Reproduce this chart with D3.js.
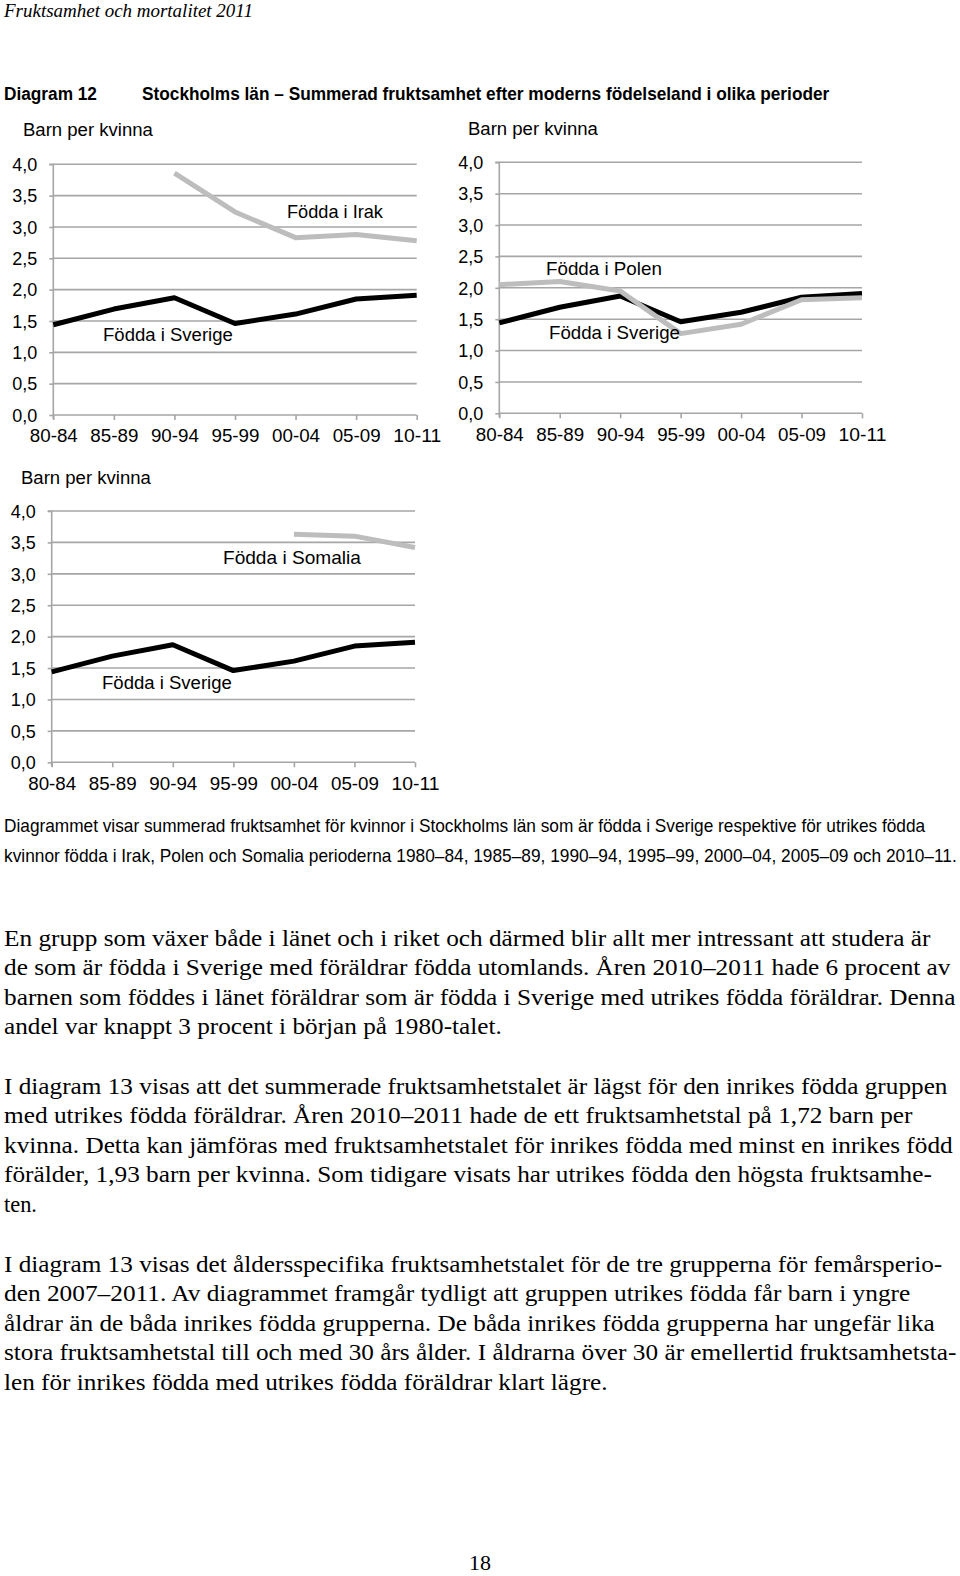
<!DOCTYPE html>
<html>
<head>
<meta charset="utf-8">
<script src="https://cdn.jsdelivr.net/npm/d3@7"></script>
<style>
  body { margin: 0; background: #fff; }
  svg { display: block; }
</style>
</head>
<body>
<svg id="page" width="960" height="1576"></svg>
<script>
// periods on the x axis, fertility (children per woman) on the y axis
const periods = ["80-84", "85-89", "90-94", "95-99", "00-04", "05-09", "10-11"];
const yTicks = [0, 0.5, 1, 1.5, 2, 2.5, 3, 3.5, 4];

const sverige = [1.44, 1.69, 1.87, 1.46, 1.61, 1.85, 1.91];
const irak    = [null, null, 3.86, 3.24, 2.83, 2.88, 2.78];
const polen   = [2.05, 2.10, 1.95, 1.27, 1.42, 1.81, 1.84];
const somalia = [null, null, null, null, 3.63, 3.60, 3.42];

const caption = [
  "Diagrammet visar summerad fruktsamhet för kvinnor i Stockholms län som är födda i Sverige respektive för utrikes födda",
  "kvinnor födda i Irak, Polen och Somalia perioderna 1980–84, 1985–89, 1990–94, 1995–99, 2000–04, 2005–09 och 2010–11."
];

const body = [
  ["En grupp som växer både i länet och i riket och därmed blir allt mer intressant att studera är",
   "de som är födda i Sverige med föräldrar födda utomlands. Åren 2010–2011 hade 6 procent av",
   "barnen som föddes i länet föräldrar som är födda i Sverige med utrikes födda föräldrar. Denna",
   "andel var knappt 3 procent i början på 1980-talet."],
  ["I diagram 13 visas att det summerade fruktsamhetstalet är lägst för den inrikes födda gruppen",
   "med utrikes födda föräldrar. Åren 2010–2011 hade de ett fruktsamhetstal på 1,72 barn per",
   "kvinna. Detta kan jämföras med fruktsamhetstalet för inrikes födda med minst en inrikes född",
   "förälder, 1,93 barn per kvinna. Som tidigare visats har utrikes födda den högsta fruktsamhe-",
   "ten."],
  ["I diagram 13 visas det åldersspecifika fruktsamhetstalet för de tre grupperna för femårsperio-",
   "den 2007–2011. Av diagrammet framgår tydligt att gruppen utrikes födda får barn i yngre",
   "åldrar än de båda inrikes födda grupperna. De båda inrikes födda grupperna har ungefär lika",
   "stora fruktsamhetstal till och med 30 års ålder. I åldrarna över 30 är emellertid fruktsamhetsta-",
   "len för inrikes födda med utrikes födda föräldrar klart lägre."]
];

const svg = d3.select("#page");
svg.append("rect").attr("width", 960).attr("height", 1576).attr("fill", "#fff");

const SANS = "'Liberation Sans', Arial, sans-serif";
const NARROW = "'Liberation Sans Narrow', 'Liberation Sans', Arial, sans-serif";
const SERIF = "'Liberation Serif', 'Times New Roman', Times, serif";

// text squeezed (or stretched) horizontally to a measured width
function txt(x, y, s, o) {
  const t = svg.append("text")
    .attr("font-family", o.family || SANS)
    .attr("font-size", o.size || 17)
    .attr("fill", "#000")
    .text(s);
  if (o.weight) t.attr("font-weight", o.weight);
  if (o.style) t.attr("font-style", o.style);
  if (o.anchor) t.attr("text-anchor", o.anchor);
  let k = 1;
  if (o.width) k = o.width / t.node().getComputedTextLength();
  t.attr("transform", `translate(${x},${y}) scale(${k},1)`);
  return t;
}

// page header
txt(4, 17, "Fruktsamhet och mortalitet 2011", {family: SERIF, style: "italic", size: 19.5, width: 249});
txt(4, 100, "Diagram 12", {family: NARROW, weight: "bold", size: 18.5, width: 93});
txt(142, 100, "Stockholms län – Summerad fruktsamhet efter moderns födelseland i olika perioder",
    {family: NARROW, weight: "bold", size: 18.5, width: 688});

// one small line chart
function panel(p) {
  const x = d3.scalePoint().domain(periods).range([p.x0, p.x1]);
  const y = d3.scaleLinear().domain([0, 4]).range([p.yBot, p.yTop]);
  const g = svg.append("g");

  // gridlines
  g.selectAll("line.grid").data(yTicks).join("line")
    .attr("x1", p.x0).attr("x2", p.x1)
    .attr("y1", d => y(d)).attr("y2", d => y(d))
    .attr("stroke", "#a6a6a6").attr("stroke-width", 1.6);

  // y axis
  const ya = g.append("g").attr("transform", `translate(${p.x0},0)`)
    .call(d3.axisLeft(y).tickValues(yTicks).tickSize(4).tickPadding(12)
      .tickFormat(d => d3.format(".1f")(d).replace(".", ",")));
  ya.select(".domain").attr("stroke", "#a6a6a6").attr("stroke-width", 1.6)
    .attr("d", `M-4,${p.yTop}H0V${p.yBot + 4}`);
  ya.selectAll(".tick line").attr("stroke", "#a6a6a6").attr("stroke-width", 1.6);
  ya.selectAll(".tick text").attr("font-family", SANS).attr("font-size", 17.5).attr("fill", "#000")
    .attr("dy", "0.36em").attr("textLength", 25).attr("lengthAdjust", "spacingAndGlyphs");

  // x axis
  const xa = g.append("g").attr("transform", `translate(0,${p.yBot})`)
    .call(d3.axisBottom(x).tickSize(5).tickPadding(10));
  xa.select(".domain").remove();
  xa.selectAll(".tick line").attr("stroke", "#a6a6a6").attr("stroke-width", 1.6);
  xa.selectAll(".tick text").attr("font-family", SANS).attr("font-size", 17.5).attr("fill", "#000")
    .attr("dy", "0.71em").attr("textLength", 48).attr("lengthAdjust", "spacingAndGlyphs");

  txt(p.unit[0], p.unit[1], "Barn per kvinna", {size: 17.5, width: 130});
  p.labels.forEach(l => txt(l.x, l.y, l.text, {size: 17.5, width: l.w}));

  const line = d3.line()
    .defined(d => d.v != null)
    .x(d => x(d.p)).y(d => y(d.v));

  p.series.forEach(s => {
    g.append("path")
      .datum(periods.map((per, i) => ({p: per, v: s.values[i]})))
      .attr("d", line)
      .attr("fill", "none")
      .attr("stroke", s.color)
      .attr("stroke-width", 5)
      .attr("stroke-linejoin", "round");
  });
}

const BLACK = "#000", GREY = "#bdbdbd";

panel({
  x0: 53.3, x1: 416.7, yTop: 164.3, yBot: 415, unit: [23, 136],
  series: [{values: sverige, color: BLACK}, {values: irak, color: GREY}],
  labels: [{text: "Födda i Irak", x: 287, y: 218, w: 96},
           {text: "Födda i Sverige", x: 103, y: 341, w: 130}]
});
panel({
  x0: 499.3, x1: 862, yTop: 162.3, yBot: 413.3, unit: [468, 135],
  series: [{values: sverige, color: BLACK}, {values: polen, color: GREY}],
  labels: [{text: "Födda i Polen", x: 546, y: 275, w: 116},
           {text: "Födda i Sverige", x: 549, y: 339, w: 131}]
});
panel({
  x0: 51.7, x1: 415, yTop: 511, yBot: 762.3, unit: [21, 484],
  series: [{values: sverige, color: BLACK}, {values: somalia, color: GREY}],
  labels: [{text: "Födda i Somalia", x: 223, y: 564, w: 138},
           {text: "Födda i Sverige", x: 102, y: 689, w: 130}]
});

// caption under the charts
const capW = [922, 953];
caption.forEach((s, i) => txt(4, 832 + i * 30, s, {family: NARROW, size: 18.5, width: capW[i]}));

// body paragraphs
const paraTop = [946, 1094, 1272];
const bodyW = [
  [927, 947, 952, 498],
  [944, 909, 949, 928, 33],
  [939, 907, 931, 953, 604]
];
body.forEach((para, pi) => {
  para.forEach((s, li) => {
    txt(4, paraTop[pi] + li * 29.4, s, {family: SERIF, size: 23, width: bodyW[pi][li]});
  });
});

txt(480, 1570, "18", {family: SERIF, size: 22, anchor: "middle", width: 22});
</script>
</body>
</html>
